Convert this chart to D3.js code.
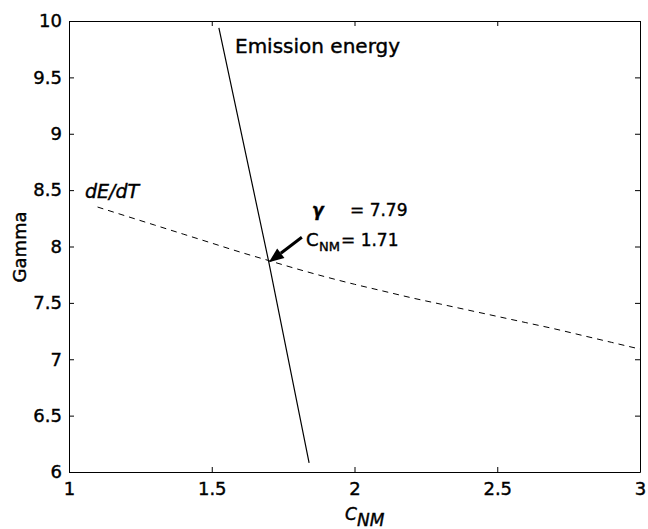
<!DOCTYPE html>
<html>
<head>
<meta charset="utf-8">
<script src="https://cdn.jsdelivr.net/npm/d3@7"></script>
<style>
  html, body { margin: 0; padding: 0; background: #fff; }
  svg text { font-family: "DejaVu Sans", "Liberation Sans", sans-serif; fill: #000; stroke: #000; stroke-width: 0.4px; }
</style>
</head>
<body>
<svg id="chart" width="648" height="529"></svg>
<script>
// Emission-energy condition: gamma as a function of C_NM (solid)
const emissionC     = [1.525, 1.70, 1.841];
const emissionGamma = [9.94, 7.86, 6.08];

// dE/dT condition: gamma as a function of C_NM (dashed)
const dedtC     = [1.10, 1.20, 1.30, 1.40, 1.50, 1.60, 1.70, 1.80, 1.90, 2.00, 2.10, 2.20, 2.30, 2.40, 2.50, 2.60, 2.70, 2.80, 2.90, 3.00];
const dedtGamma = [8.35, 8.27, 8.19, 8.11, 8.03, 7.95, 7.875, 7.80, 7.73, 7.665, 7.605, 7.545, 7.49, 7.435, 7.38, 7.325, 7.27, 7.21, 7.15, 7.09];

// Axis ticks
const xTicks = [1, 1.5, 2, 2.5, 3];
const xTickLabels = ["1", "1.5", "2", "2.5", "3"];
const yTicks = [6, 6.5, 7, 7.5, 8, 8.5, 9, 9.5, 10];
const yTickLabels = ["6", "6.5", "7", "7.5", "8", "8.5", "9", "9.5", "10"];

// Crossing point of the two conditions
const crossGamma = 7.79;
const crossC = 1.71;

const svg = d3.select("#chart");
const plotL = 69, plotR = 640, plotT = 21, plotB = 472;

const x = d3.scaleLinear().domain([1, 3]).range([plotL, plotR]);
const y = d3.scaleLinear().domain([6, 10]).range([plotB, plotT]);

const tickLen = 5;

// Axes (ticks pointing inward, box on all sides)
const axisStyle = g => {
  g.selectAll("path.domain").attr("stroke", "#000").attr("stroke-width", 1);
  g.selectAll(".tick line").attr("stroke", "#000");
  g.selectAll(".tick text").attr("font-size", 18).attr("fill", "#000")
    .attr("font-family", "\"DejaVu Sans\", sans-serif");
};

svg.append("g").attr("transform", `translate(0,${plotB})`)
  .call(d3.axisBottom(x).tickValues(xTicks).tickFormat((d, i) => xTickLabels[i])
        .tickSizeInner(-tickLen).tickSizeOuter(0).tickPadding(10))
  .call(axisStyle)
  .call(g => g.selectAll(".tick text").attr("dy", "0.71em"));

svg.append("g").attr("transform", `translate(0,${plotT})`)
  .call(d3.axisTop(x).tickValues(xTicks).tickFormat("")
        .tickSizeInner(-tickLen).tickSizeOuter(0))
  .call(axisStyle);

svg.append("g").attr("transform", `translate(${plotL},0)`)
  .call(d3.axisLeft(y).tickValues(yTicks).tickFormat((d, i) => yTickLabels[i])
        .tickSizeInner(-tickLen).tickSizeOuter(0).tickPadding(7))
  .call(axisStyle);

svg.append("g").attr("transform", `translate(${plotR},0)`)
  .call(d3.axisRight(y).tickValues(yTicks).tickFormat("")
        .tickSizeInner(-tickLen).tickSizeOuter(0))
  .call(axisStyle);

// Curves
const line = d3.line().x(d => x(d[0])).y(d => y(d[1])).curve(d3.curveMonotoneX);

svg.append("path")
  .datum(dedtC.map((c, i) => [c, dedtGamma[i]]))
  .attr("d", line)
  .attr("fill", "none")
  .attr("stroke", "#000")
  .attr("stroke-width", 1)
  .attr("stroke-dasharray", "6,5");

svg.append("path")
  .datum(emissionC.map((c, i) => [c, emissionGamma[i]]))
  .attr("d", d3.line().x(d => x(d[0])).y(d => y(d[1])))
  .attr("fill", "none")
  .attr("stroke", "#000")
  .attr("stroke-width", 1.2);

// Curve labels
svg.append("text")
  .attr("x", 235).attr("y", 53)
  .attr("font-size", 20)
  .text("Emission energy");

svg.append("text")
  .attr("x", 85).attr("y", 198)
  .attr("font-size", 19)
  .attr("font-style", "italic")
  .text("dE/dT");

// Annotation at the crossing point
const tipX = x(1.7), tipY = y(7.86);
const tailX = tipX + 33, tailY = tipY - 25;
const ang = Math.atan2(tipY - tailY, tipX - tailX);
const headLen = 15, headW = 6;
const bx = tipX - headLen * Math.cos(ang), by = tipY - headLen * Math.sin(ang);
svg.append("line")
  .attr("x1", tailX).attr("y1", tailY).attr("x2", bx).attr("y2", by)
  .attr("stroke", "#000").attr("stroke-width", 3);
svg.append("path")
  .attr("d", `M${tipX},${tipY}L${bx + headW * Math.sin(ang)},${by - headW * Math.cos(ang)}L${bx - headW * Math.sin(ang)},${by + headW * Math.cos(ang)}Z`)
  .attr("fill", "#000");

const ann1 = svg.append("text").attr("x", 312).attr("y", 216).attr("font-size", 17);
ann1.append("tspan").attr("font-style", "italic").attr("font-weight", "bold").text("γ");
ann1.append("tspan").attr("x", 350).text("= " + crossGamma.toFixed(2));

const ann2 = svg.append("text").attr("x", 306).attr("y", 246).attr("font-size", 18);
ann2.append("tspan").text("C");
ann2.append("tspan").attr("x", 319).attr("font-size", 13).attr("dy", 5).text("NM");
ann2.append("tspan").attr("x", 341).attr("font-size", 17).attr("dy", -5).text("= " + crossC.toFixed(2));

// Axis titles
svg.append("text")
  .attr("transform", "translate(26,247) rotate(-90)")
  .attr("text-anchor", "middle")
  .attr("font-size", 18)
  .text("Gamma");

const xt = svg.append("text")
  .attr("x", 345).attr("y", 520)
  .attr("font-size", 17)
  .attr("font-style", "italic");
xt.append("tspan").text("C");
xt.append("tspan").attr("x", 357).attr("dy", 6).text("NM");
</script>
</body>
</html>
